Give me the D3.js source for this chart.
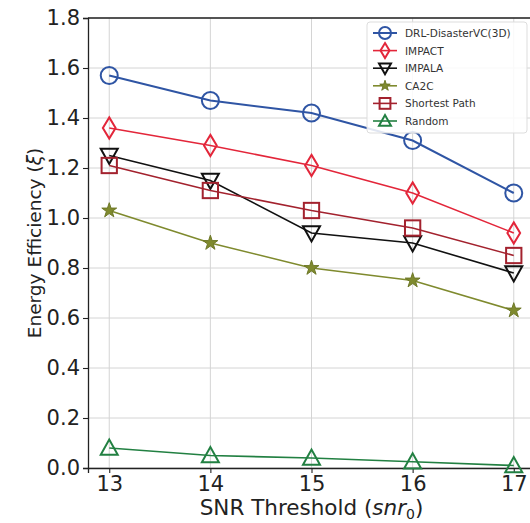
<!DOCTYPE html>
<html>
<head>
<meta charset="utf-8">
<script src="https://cdn.jsdelivr.net/npm/d3@7"></script>
<style>
  body { margin: 0; background: #fff; }
  svg { display: block; font-family: "DejaVu Sans", sans-serif; }
</style>
</head>
<body>
<svg id="chart"></svg>
<script>
const width = 530,
      height = 523;

const snr = [13, 14, 15, 16, 17];
const yTicks = [0.0, 0.2, 0.4, 0.6, 0.8, 1.0, 1.2, 1.4, 1.6, 1.8];

const drl      = [1.57, 1.47, 1.42, 1.31, 1.10];
const impact   = [1.36, 1.29, 1.21, 1.10, 0.94];
const impala   = [1.25, 1.15, 0.94, 0.90, 0.78];
const ca2c     = [1.03, 0.90, 0.80, 0.75, 0.63];
const shortest = [1.21, 1.11, 1.03, 0.96, 0.85];
const random   = [0.08, 0.05, 0.04, 0.025, 0.01];

const series = [
  { name: "DRL-DisasterVC(3D)", values: drl, color: "#2f55a4", marker: "circle", lw: 2 },
  { name: "IMPACT", values: impact, color: "#e3263a", marker: "diamond", lw: 1.6 },
  { name: "IMPALA", values: impala, color: "#111111", marker: "tridown", lw: 1.6 },
  { name: "CA2C", values: ca2c, color: "#7f8a2e", marker: "star", lw: 1.6 },
  { name: "Shortest Path", values: shortest, color: "#a3222e", marker: "square", lw: 1.6 },
  { name: "Random", values: random, color: "#228042", marker: "triup", lw: 1.6 }
];

const margin = { left: 88, top: 18, right: -5, bottom: 55 };

const svg = d3.select("#chart")
  .attr("width", width)
  .attr("height", height);

const x = d3.scaleLinear()
  .domain([12.79, 17.21])
  .range([margin.left, width - margin.right]);

const y = d3.scaleLinear()
  .domain([0, 1.8])
  .range([height - margin.bottom, margin.top]);

// grid
svg.append("g")
  .selectAll("line")
  .data(yTicks)
  .join("line")
  .attr("x1", margin.left).attr("x2", width)
  .attr("y1", d => y(d)).attr("y2", d => y(d))
  .attr("stroke", "#d4d4d4").attr("stroke-width", 1);

svg.append("g")
  .selectAll("line")
  .data(snr)
  .join("line")
  .attr("x1", d => x(d)).attr("x2", d => x(d))
  .attr("y1", margin.top).attr("y2", height - margin.bottom)
  .attr("stroke", "#d4d4d4").attr("stroke-width", 1);

// axes
const xAxis = svg.append("g")
  .attr("transform", `translate(0,${height - margin.bottom})`)
  .call(d3.axisBottom(x).tickValues(snr).tickFormat(d3.format("d")).tickSize(5).tickPadding(3));

const yAxis = svg.append("g")
  .attr("transform", `translate(${margin.left},0)`)
  .call(d3.axisLeft(y).tickValues(yTicks).tickFormat(d3.format(".1f")).tickSize(5).tickPadding(3));

[xAxis, yAxis].forEach(a => {
  a.select(".domain").attr("stroke", "#222").attr("stroke-width", 1.3);
  a.selectAll(".tick line").attr("stroke", "#222").attr("stroke-width", 1.1);
  a.selectAll(".tick text")
    .attr("font-family", "DejaVu Sans")
    .attr("font-size", 21)
    .attr("fill", "#222");
});

// top spine
svg.append("line")
  .attr("x1", margin.left).attr("x2", width)
  .attr("y1", margin.top).attr("y2", margin.top)
  .attr("stroke", "#222").attr("stroke-width", 1.3);

// axis labels
svg.append("text")
  .attr("x", x(15)).attr("y", 515)
  .attr("text-anchor", "middle")
  .attr("font-size", 21.5).attr("fill", "#222")
  .html('SNR Threshold (<tspan font-style="italic">snr</tspan><tspan font-size="14" dy="4">0</tspan><tspan dy="-4">)</tspan>');

svg.append("text")
  .attr("transform", `translate(41,${y(0.9)}) rotate(-90)`)
  .attr("text-anchor", "middle")
  .attr("font-size", 18.5).attr("fill", "#222")
  .html('Energy Efficiency (<tspan font-style="italic">ξ</tspan>)');

function drawMarker(g, type, color, s) {
  const sw = 2;
  if (type === "circle") {
    g.append("circle").attr("r", s).attr("fill", "none").attr("stroke", color).attr("stroke-width", sw);
  } else if (type === "diamond") {
    g.append("path").attr("d", `M0,${-s * 1.25}L${s * 0.75},0L0,${s * 1.25}L${-s * 0.75},0Z`)
      .attr("fill", "none").attr("stroke", color).attr("stroke-width", sw);
  } else if (type === "square") {
    g.append("rect").attr("x", -s * 0.9).attr("y", -s * 0.9).attr("width", s * 1.8).attr("height", s * 1.8)
      .attr("fill", "none").attr("stroke", color).attr("stroke-width", sw);
  } else if (type === "tridown") {
    g.append("path").attr("d", `M${-s},${-s * 0.8}L${s},${-s * 0.8}L0,${s * 1.0}Z`)
      .attr("fill", "none").attr("stroke", color).attr("stroke-width", sw);
  } else if (type === "triup") {
    g.append("path").attr("d", `M${-s},${s * 0.8}L${s},${s * 0.8}L0,${-s * 1.0}Z`)
      .attr("fill", "none").attr("stroke", color).attr("stroke-width", sw);
  } else if (type === "star") {
    g.append("path").attr("d", d3.symbol(d3.symbolStar, s * s * 0.95)())
      .attr("fill", color).attr("stroke", d3.color(color).darker(0.4)).attr("stroke-width", 1);
  }
}

const line = d3.line()
  .x((d, i) => x(snr[i]))
  .y(d => y(d));

series.forEach(s => {
  svg.append("path")
    .datum(s.values)
    .attr("d", line)
    .attr("fill", "none")
    .attr("stroke", s.color)
    .attr("stroke-width", s.lw);

  s.values.forEach((v, i) => {
    const g = svg.append("g").attr("transform", `translate(${x(snr[i])},${y(v)})`);
    drawMarker(g, s.marker, s.color, 8.5);
  });
});

// legend
const legend = svg.append("g").attr("transform", "translate(367,22)");
legend.append("rect")
  .attr("width", 160).attr("height", 111).attr("rx", 3)
  .attr("fill", "#fff").attr("fill-opacity", 0.85)
  .attr("stroke", "#ddd");

series.forEach((s, i) => {
  const ly = 11 + i * 17.6;
  const item = legend.append("g").attr("transform", `translate(0,${ly})`);
  item.append("line")
    .attr("x1", 6).attr("x2", 30)
    .attr("stroke", s.color).attr("stroke-width", s.lw);
  const m = item.append("g").attr("transform", "translate(18,0)");
  drawMarker(m, s.marker, s.color, 6);
  item.append("text")
    .attr("x", 38).attr("y", 4)
    .attr("font-size", 10.5).attr("fill", "#333")
    .text(s.name);
});
</script>
</body>
</html>
